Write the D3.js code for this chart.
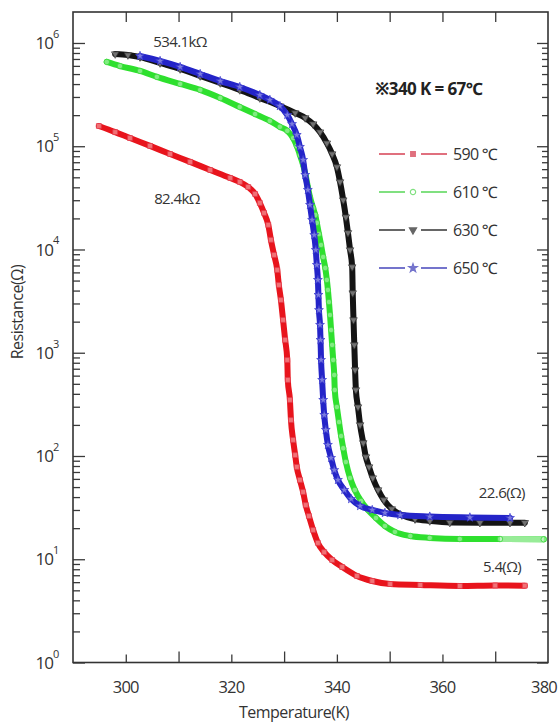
<!DOCTYPE html>
<html><head><meta charset="utf-8">
<script src="https://cdn.jsdelivr.net/npm/d3@7"></script>
<style>body{margin:0;background:#fff}</style>
</head><body><svg id="c" width="558" height="724"></svg>
<script>
// ---------- data ----------
const seriesNames = ["590 ℃", "610 ℃", "630 ℃", "650 ℃"];

const t590 = [294.9,298.0,300.8,304.6,308.4,312.2,316.0,319.8,321.6,323.2,324.5,325.4,326.2,327.0,327.5,328.1,328.7,329.0,329.4,329.8,330.2,330.6,330.7,331.1,331.3,331.7,332.1,332.4,333.0,333.6,334.1,334.7,335.5,336.4,337.6,339.1,341.0,343.8,346.7,350.1,355.8,363.3,370.0,375.6];
const r590 = [157000,137000,120000,100700,84100,70500,58900,49300,45100,40300,34500,28200,22600,17300,12400,8850,6330,4530,3240,2080,1330,851,545,349,223,143,102,78.3,58.6,44.8,33.5,26.2,19.2,14.4,11.7,9.84,8.41,6.89,6.16,5.75,5.63,5.51,5.57,5.55];

const t610 = [296.4,298.9,302.7,305.9,310.3,314.1,317.9,321.6,324.5,327.3,329.2,330.6,331.7,332.4,333.0,333.6,334.1,334.5,334.9,335.5,335.9,336.2,336.6,337.0,337.4,337.8,338.1,338.3,338.5,338.7,338.9,339.1,339.3,339.5,339.6,340.0,340.4,340.8,341.2,341.7,342.5,343.4,344.6,345.9,347.4,349.1,351.0,353.9,357.6,363.3,370.9,379.2];
const r610 = [655000,598000,536000,469000,401000,351000,293000,240000,205000,176000,154000,141000,120000,100500,82200,65800,51500,40300,32200,25200,21600,18100,14100,11060,8460,6620,5070,4055,3100,2320,1660,1190,851,609,436,298,213,156,119,87.5,61.2,46.9,36.6,30.0,25.1,21.0,18.4,16.8,16.1,15.7,15.7,15.6];

const t630 = [298.0,300.4,302.7,306.5,310.3,314.1,317.9,321.6,325.4,329.2,332.1,334.0,335.5,336.8,338.1,339.1,340.0,340.6,341.2,341.7,342.1,342.5,342.9,343.0,343.15,343.3,343.45,343.6,344.0,344.4,345.0,345.5,346.1,346.8,347.8,348.9,350.4,352.3,354.8,357.6,361.4,367.1,372.8,375.6];
const r630 = [782000,765000,731000,640000,560000,479000,410000,351000,293000,245000,210000,188000,164000,137000,107000,84100,63000,45100,30100,20600,14500,9890,6770,3790,2080,1190,681,436,298,200,134,97.8,78.2,61.2,46.9,37.5,30.7,26.8,24.5,23.5,22.7,22.6,22.6,22.6];

const t650 = [302.7,306.5,310.3,314.1,317.9,321.6,325.4,327.3,329.2,330.6,331.5,332.4,333.0,333.6,334.0,334.5,334.9,335.3,335.7,336.0,336.2,336.4,336.5,336.6,336.8,336.9,337.0,337.2,337.4,337.6,337.9,338.3,338.9,339.5,340.2,341.4,342.7,344.4,346.7,349.1,352.0,357.6,365.2,372.8];
const r650 = [748000,670000,586000,501000,428000,375000,313000,281000,245000,201000,164000,128500,98400,73600,52700,37700,27000,19300,13800,9890,7080,5070,3630,2590,1860,1330,851,545,349,250,179,128,95.7,73.1,58.6,46.9,38.3,32.8,30.0,28.1,26.8,25.9,25.4,25.1];

const xTickValues = [300,310,320,330,340,350,360,370];
const xLabelValues = [300,320,340,360,380];
const yDecades = [0,1,2,3,4,5,6];

const annotations = [
  {text:"534.1kΩ", t:310.3, r:1.02e6, anchor:"middle"},
  {text:"82.4kΩ", t:309.7, r:30800, anchor:"middle"},
  {text:"22.6(Ω)", t:366.9, r:43.8, anchor:"start"},
  {text:"5.4(Ω)", t:367.7, r:8.41, anchor:"start"}
];
const noteText = "※340 K = 67℃";
const fadedFrom610 = 364; // tail of the 610 series drawn lighter

// ---------- styles ----------
const colors = ["#e8141c","#2ee02e","#141414","#2424c8"];
const markerStroke = ["#e43848","#3ad83a","#333333","#3a3ad0"];
const legendColors = ["#e0707e","#80e080","#666666","#7474cc"];
const symbols = [d3.symbolSquare, d3.symbolCircle, d3.symbolTriangle, d3.symbolStar];
const rotations = [0,0,180,0];
const font = "'Open Sans', 'Noto Sans', sans-serif";

const series = [
  {name:seriesNames[0], t:t590, r:r590},
  {name:seriesNames[1], t:t610, r:r610},
  {name:seriesNames[2], t:t630, r:r630},
  {name:seriesNames[3], t:t650, r:r650}
];

const svg = d3.select("#c");
const L=73, R=548, T=12, B=662.5;
const x = d3.scaleLinear().domain([290,380]).range([L,R]);
const y = d3.scaleLog().domain([1, Math.pow(10,6.3)]).range([B,T]);

const majors = yDecades.map(d=>Math.pow(10,d));
const minors = [];
yDecades.forEach(d=>{ for(let k=2;k<=9;k++){ const v=k*Math.pow(10,d); if(v<=Math.pow(10,6.3)) minors.push(v);} });

function styleAxis(g){ g.select(".domain").remove(); g.selectAll("line").attr("stroke","#3a3a3a").attr("stroke-width",1.3); }

svg.append("g").attr("transform",`translate(${L},0)`).call(d3.axisRight(y).tickValues(majors).tickSize(12).tickFormat("")).call(styleAxis);
svg.append("g").attr("transform",`translate(${L},0)`).call(d3.axisRight(y).tickValues(minors).tickSize(7).tickFormat("")).call(styleAxis);
svg.append("g").attr("transform",`translate(${R},0)`).call(d3.axisLeft(y).tickValues(majors).tickSize(11).tickFormat("")).call(styleAxis);
svg.append("g").attr("transform",`translate(${R},0)`).call(d3.axisLeft(y).tickValues(minors).tickSize(6).tickFormat("")).call(styleAxis);
svg.append("g").attr("transform",`translate(0,${B})`).call(d3.axisTop(x).tickValues(xTickValues.filter(v=>v%20===0)).tickSize(8).tickFormat("")).call(styleAxis);
svg.append("g").attr("transform",`translate(0,${B})`).call(d3.axisTop(x).tickValues(xTickValues.filter(v=>v%20!==0)).tickSize(11).tickFormat("")).call(styleAxis);
svg.append("g").attr("transform",`translate(0,${T})`).call(d3.axisBottom(x).tickValues(xTickValues).tickSize(10).tickFormat("")).call(styleAxis);

svg.append("rect").attr("x",L).attr("y",T).attr("width",R-L).attr("height",B-T)
  .attr("fill","none").attr("stroke","#333").attr("stroke-width",1.6);

// y labels
const yl = svg.append("g").attr("font-family",font).attr("fill","#333");
majors.forEach((v,i)=>{
  yl.append("text").attr("x",53).attr("y",y(v)).attr("dy","0.36em").attr("text-anchor","end")
    .attr("font-size",17).attr("letter-spacing","-1").text("10");
  yl.append("text").attr("x",53).attr("y",y(v)-5).attr("font-size",11).text(yDecades[i]);
});
// x labels
xLabelValues.forEach((v,i)=>{
  const last = i===xLabelValues.length-1;
  svg.append("text").attr("x",last?557:x(v)).attr("y",693).attr("text-anchor",last?"end":"middle")
    .attr("font-family",font).attr("font-size",16.5).attr("fill","#333").attr("letter-spacing","-0.8").text(v);
});
svg.append("text").attr("x",294).attr("y",718).attr("text-anchor","middle")
  .attr("font-family",font).attr("font-size",16).attr("fill","#333").attr("letter-spacing","-0.5").text("Temperature(K)");
svg.append("text").attr("transform","translate(23,312) rotate(-90)").attr("text-anchor","middle")
  .attr("font-family",font).attr("font-size",16).attr("fill","#333").attr("letter-spacing","-0.5").text("Resistance(Ω)");

// curves
const line = d3.line().x(d=>x(d[0])).y(d=>y(d[1])).curve(d3.curveMonotoneX);
const plot = svg.append("g");
series.forEach((s,i)=>{
  const pts = s.t.map((t,j)=>[t,s.r[j]]);
  plot.append("path").datum(pts).attr("d",line).attr("fill","none")
    .attr("stroke",colors[i]).attr("stroke-width",6).attr("stroke-linejoin","round").attr("stroke-linecap","round");
  if(i===1){
    plot.append("path").datum(pts.filter(d=>d[0]>=fadedFrom610)).attr("d",line).attr("fill","none")
      .attr("stroke","#98ec98").attr("stroke-width",6).attr("stroke-linecap","butt");
  }
  plot.append("g").selectAll("path").data(pts).join("path")
    .attr("d",d3.symbol(symbols[i],24))
    .attr("transform",d=>`translate(${x(d[0])},${y(d[1])}) rotate(${rotations[i]})`)
    .attr("fill","#fff").attr("fill-opacity",0.4).attr("stroke",markerStroke[i]).attr("stroke-opacity",0.8).attr("stroke-width",1);
});

annotations.forEach(a=>{
  svg.append("text").attr("x",x(a.t)).attr("y",y(a.r)).attr("dy","0.35em").attr("text-anchor",a.anchor)
    .attr("font-family",font).attr("font-size",15).attr("fill","#333").attr("letter-spacing","-0.6").text(a.text);
});
svg.append("text").attr("x",375).attr("y",95).attr("font-family",font).attr("font-size",17)
  .attr("font-weight","bold").attr("fill","#222").attr("letter-spacing","-0.6").text(noteText);

// legend
const lg = svg.append("g");
seriesNames.forEach((n,i)=>{
  const ly = 154 + i*38;
  lg.append("line").attr("x1",379).attr("x2",405).attr("y1",ly).attr("y2",ly).attr("stroke",legendColors[i]).attr("stroke-width",2);
  lg.append("line").attr("x1",421).attr("x2",447).attr("y1",ly).attr("y2",ly).attr("stroke",legendColors[i]).attr("stroke-width",2);
  lg.append("path").attr("d",d3.symbol(symbols[i],22)).attr("transform",`translate(413,${ly}) rotate(${rotations[i]})`)
    .attr("fill",i===1?"#fff":legendColors[i]).attr("stroke",legendColors[i]).attr("stroke-width",1.2);
  lg.append("text").attr("x",453).attr("y",ly).attr("dy","0.35em").attr("font-family",font)
    .attr("font-size",16).attr("fill","#333").attr("letter-spacing","-0.7").text(n);
});
</script></body></html>
